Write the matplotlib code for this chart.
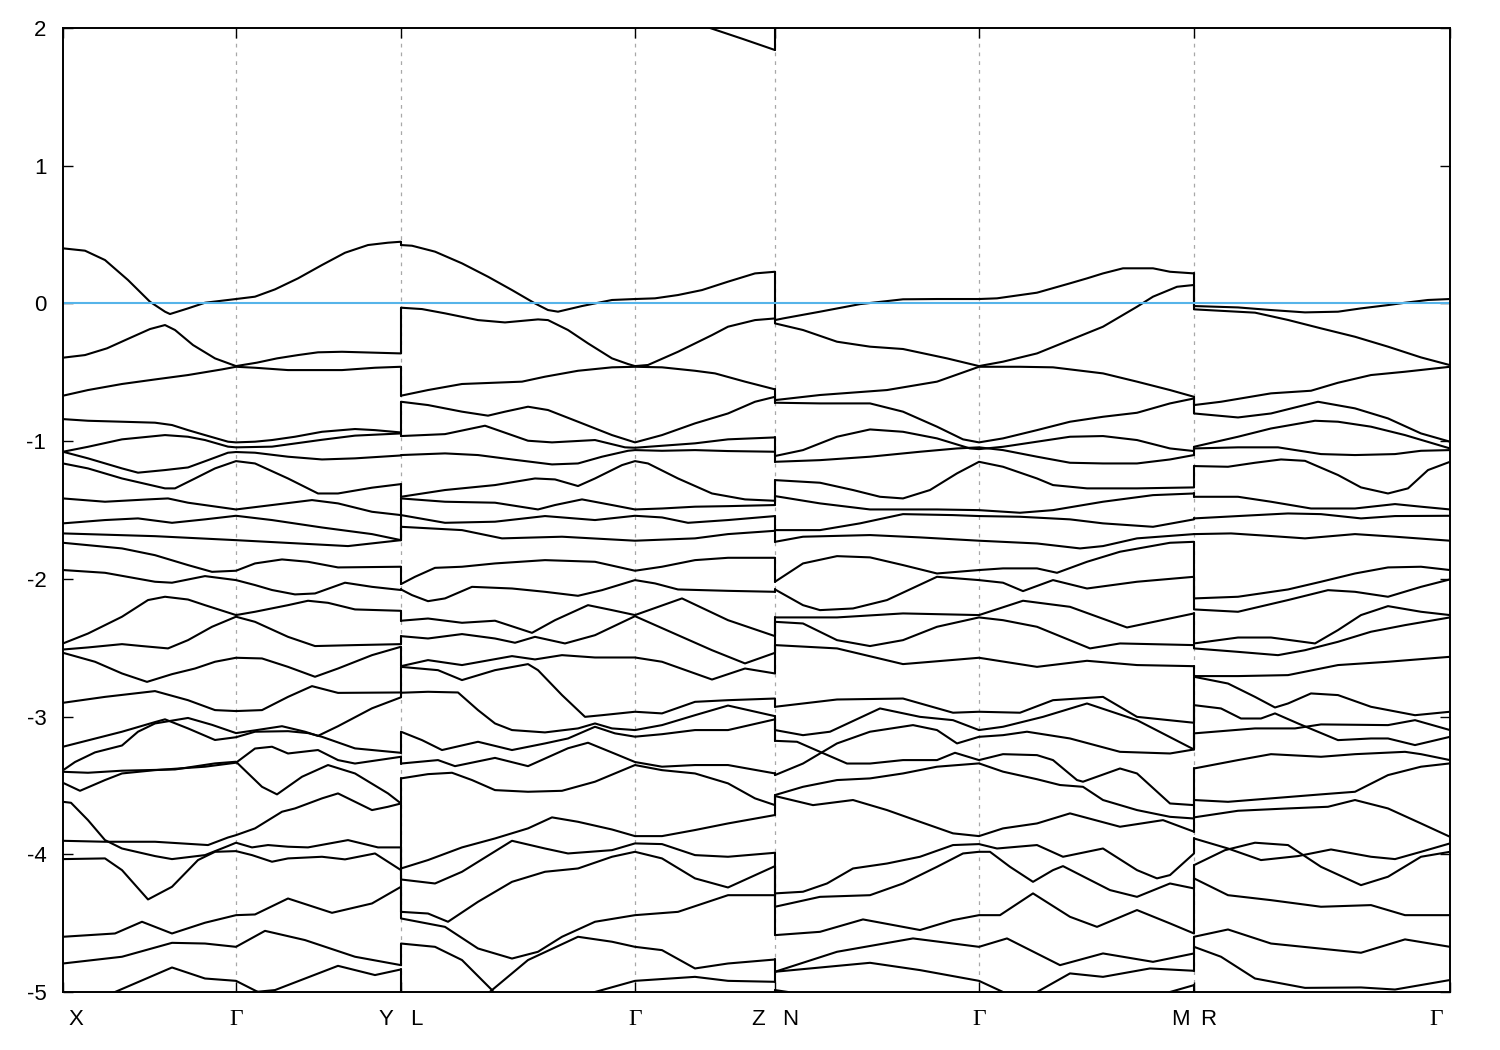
import matplotlib
matplotlib.use("Agg")
import matplotlib.pyplot as plt
import matplotlib.transforms as mtransforms

plt.rcParams['font.family'] = ['Liberation Sans', 'DejaVu Sans']
plt.rcParams['axes.unicode_minus'] = False

# ---------------- k-path (arbitrary path-length units) ----------------
tick_k = [0, 173, 338, 572, 712, 916, 1131, 1387]
label_k = [13, 173, 323, 353, 572, 695, 727, 916, 1117, 1145, 1373]
label_txt = ["X", "Γ", "Y", "L", "Γ", "Z", "N", "Γ", "M", "R", "Γ"]
yticks = [-5, -4, -3, -2, -1, 0, 1, 2]
boundaries = [338, 712, 1131]

# ---------------- bands: (k, E[eV]) ----------------
# Panel 1 : X - Gamma - Y
panel1 = [
    [(0, 2.6), (338, 2.6)],
    [(0, 0.400), (22, 0.383), (42, 0.315), (65, 0.170), (87, 0.012), (102, -0.060), (107, -0.077), (125, -0.036), (142, 0.005), (173, 0.032), (192, 0.049), (212, 0.102), (235, 0.182), (259, 0.279), (282, 0.368), (305, 0.424), (325, 0.441), (338, 0.448)],
    [(0, -0.394), (22, -0.375), (44, -0.326), (66, -0.254), (87, -0.186), (102, -0.157), (112, -0.193), (130, -0.302), (152, -0.399), (173, -0.455), (194, -0.430), (214, -0.399), (235, -0.375), (255, -0.355), (279, -0.351), (338, -0.363)],
    [(0, -0.670), (25, -0.629), (59, -0.585), (92, -0.552), (125, -0.520), (159, -0.479), (173, -0.460), (192, -0.467), (225, -0.484), (279, -0.484), (312, -0.467), (338, -0.460)],
    [(0, -0.840), (25, -0.852), (59, -0.859), (92, -0.866), (109, -0.883), (125, -0.920), (142, -0.956), (165, -1.004), (173, -1.009), (192, -1.004), (209, -0.992), (232, -0.968), (259, -0.932), (292, -0.912), (312, -0.920), (338, -0.937)],
    [(0, -1.077), (25, -1.041), (59, -0.987), (102, -0.956), (125, -0.968), (142, -0.992), (165, -1.040), (173, -1.045), (209, -1.040), (259, -0.990), (292, -0.960), (338, -0.944)],
    [(0, -1.077), (25, -1.125), (59, -1.198), (75, -1.229), (102, -1.210), (125, -1.191), (145, -1.138), (165, -1.084), (173, -1.079), (192, -1.084), (225, -1.113), (259, -1.133), (292, -1.125), (338, -1.104)],
    [(0, -1.162), (25, -1.198), (59, -1.271), (102, -1.343), (112, -1.343), (132, -1.271), (152, -1.198), (173, -1.145), (192, -1.162), (225, -1.271), (255, -1.380), (275, -1.380), (309, -1.338), (338, -1.312)],
    [(0, -1.416), (42, -1.440), (85, -1.423), (105, -1.416), (125, -1.447), (173, -1.496), (209, -1.464), (249, -1.428), (275, -1.452), (309, -1.513), (338, -1.537)],
    [(0, -1.597), (42, -1.573), (75, -1.561), (109, -1.593), (142, -1.568), (173, -1.542), (209, -1.573), (259, -1.627), (309, -1.675), (338, -1.719)],
    [(0, -1.670), (92, -1.690), (173, -1.719), (285, -1.762), (338, -1.719)],
    [(0, -1.738), (59, -1.779), (92, -1.828), (125, -1.900), (149, -1.949), (173, -1.941), (192, -1.888), (219, -1.859), (245, -1.876), (275, -1.917), (338, -1.912)],
    [(0, -1.936), (42, -1.956), (92, -2.021), (109, -2.028), (142, -1.980), (173, -2.009), (192, -2.045), (209, -2.081), (232, -2.113), (252, -2.106), (282, -2.028), (309, -2.058), (338, -2.081)],
    [(0, -2.469), (25, -2.397), (59, -2.275), (85, -2.154), (102, -2.130), (125, -2.150), (142, -2.191), (173, -2.263), (192, -2.239), (225, -2.191), (245, -2.159), (265, -2.174), (292, -2.222), (338, -2.232)],
    [(0, -2.513), (25, -2.498), (59, -2.474), (79, -2.488), (105, -2.505), (125, -2.445), (149, -2.348), (173, -2.275), (192, -2.312), (225, -2.421), (252, -2.488), (292, -2.481), (338, -2.474)],
    [(0, -2.537), (32, -2.602), (59, -2.687), (84, -2.748), (109, -2.692), (132, -2.651), (152, -2.602), (173, -2.573), (199, -2.578), (225, -2.639), (252, -2.711), (275, -2.651), (309, -2.554), (338, -2.493)],
    [(0, -2.900), (42, -2.857), (92, -2.815), (125, -2.881), (152, -2.953), (173, -2.960), (199, -2.953), (225, -2.857), (249, -2.779), (275, -2.828), (338, -2.825)],
    [(0, -3.219), (59, -3.110), (92, -3.040), (102, -3.020), (125, -3.086), (152, -3.170), (173, -3.150), (192, -3.110), (225, -3.106), (245, -3.120), (259, -3.147), (292, -3.231), (338, -3.263)],
    [(0, -3.390), (12, -3.330), (32, -3.260), (59, -3.210), (75, -3.110), (92, -3.050), (125, -3.010), (149, -3.060), (173, -3.120), (192, -3.100), (219, -3.070), (242, -3.110), (255, -3.140), (275, -3.070), (309, -2.940), (338, -2.860)],
    [(0, -3.401), (25, -3.408), (59, -3.393), (112, -3.384), (152, -3.340), (173, -3.328), (199, -3.510), (214, -3.565), (239, -3.437), (265, -3.352), (292, -3.413), (325, -3.558), (338, -3.631)],
    [(0, -3.481), (17, -3.539), (42, -3.461), (59, -3.413), (92, -3.389), (142, -3.364), (173, -3.335), (192, -3.232), (209, -3.219), (225, -3.268), (255, -3.243), (275, -3.316), (292, -3.341), (338, -3.292)],
    [(0, -3.619), (8, -3.626), (25, -3.752), (42, -3.897), (59, -3.958), (92, -4.013), (109, -4.035), (142, -4.006), (165, -3.940), (173, -3.916), (189, -3.950), (205, -3.933), (225, -3.945), (245, -3.950), (285, -3.897), (315, -3.950), (338, -3.950)],
    [(0, -3.902), (42, -3.909), (92, -3.909), (145, -3.933), (165, -3.878), (173, -3.861), (192, -3.812), (219, -3.691), (232, -3.667), (259, -3.594), (275, -3.558), (309, -3.679), (325, -3.655), (338, -3.631)],
    [(0, -4.035), (42, -4.030), (59, -4.115), (85, -4.328), (109, -4.236), (135, -4.042), (152, -3.982), (173, -3.977), (189, -4.006), (209, -4.054), (225, -4.030), (259, -4.018), (282, -4.037), (312, -3.994), (338, -4.115)],
    [(0, -4.599), (52, -4.575), (79, -4.490), (109, -4.575), (142, -4.497), (173, -4.442), (192, -4.437), (225, -4.321), (269, -4.425), (309, -4.357), (338, -4.236)],
    [(0, -4.793), (59, -4.744), (109, -4.643), (142, -4.648), (173, -4.672), (202, -4.556), (242, -4.623), (292, -4.744), (338, -4.805)],
    [(0, -5.200), (40, -5.050), (52, -5.000), (109, -4.822), (142, -4.902), (173, -4.919), (195, -5.000), (230, -5.150), (338, -5.300)],
    [(0, -5.300), (150, -5.150), (192, -5.000), (212, -4.986), (275, -4.810), (312, -4.877), (338, -4.836)],
]

# Panel 2 : L - Gamma - Z
panel2 = [
    [(338, 2.6), (572, 2.4), (600, 2.3), (647, 2.0), (680, 1.92), (712, 1.84)],
    [(338, 0.424), (349, 0.419), (372, 0.376), (399, 0.291), (425, 0.194), (449, 0.097), (472, 0.0), (485, -0.048), (495, -0.060), (519, -0.019), (549, 0.025), (572, 0.032), (592, 0.037), (615, 0.061), (639, 0.097), (665, 0.158), (692, 0.218), (712, 0.230)],
    [(338, -0.031), (359, -0.041), (382, -0.072), (415, -0.121), (442, -0.138), (475, -0.116), (485, -0.121), (505, -0.193), (525, -0.290), (549, -0.399), (565, -0.440), (572, -0.455), (585, -0.447), (615, -0.351), (649, -0.230), (665, -0.169), (692, -0.121), (712, -0.109)],
    [(338, -0.670), (365, -0.629), (399, -0.585), (459, -0.568), (482, -0.532), (515, -0.489), (549, -0.464), (572, -0.460), (599, -0.464), (632, -0.489), (652, -0.508), (682, -0.568), (712, -0.624)],
    [(338, -0.714), (365, -0.738), (399, -0.786), (425, -0.815), (442, -0.786), (465, -0.750), (485, -0.774), (515, -0.859), (549, -0.956), (572, -1.009), (599, -0.956), (632, -0.871), (665, -0.799), (692, -0.714), (712, -0.678)],
    [(338, -0.963), (382, -0.949), (422, -0.888), (465, -0.997), (489, -1.009), (532, -0.992), (562, -1.045), (572, -1.048), (632, -1.016), (665, -0.987), (712, -0.973)],
    [(338, -1.101), (382, -1.089), (415, -1.101), (449, -1.133), (489, -1.169), (515, -1.162), (539, -1.113), (565, -1.070), (572, -1.065), (599, -1.070), (632, -1.065), (665, -1.072), (712, -1.077)],
    [(338, -1.404), (382, -1.355), (432, -1.319), (472, -1.271), (492, -1.278), (515, -1.326), (532, -1.271), (559, -1.174), (572, -1.145), (585, -1.162), (615, -1.271), (649, -1.380), (682, -1.423), (712, -1.433)],
    [(338, -1.416), (382, -1.440), (432, -1.447), (475, -1.496), (492, -1.464), (519, -1.423), (549, -1.464), (572, -1.496), (599, -1.489), (632, -1.476), (665, -1.472), (712, -1.464)],
    [(338, -1.537), (382, -1.593), (432, -1.585), (482, -1.544), (532, -1.573), (572, -1.542), (599, -1.554), (625, -1.593), (665, -1.573), (712, -1.544)],
    [(338, -1.622), (399, -1.646), (439, -1.706), (499, -1.694), (572, -1.723), (632, -1.706), (665, -1.675), (712, -1.651)],
    [(338, -2.038), (352, -1.985), (372, -1.920), (399, -1.912), (432, -1.888), (482, -1.864), (532, -1.876), (572, -1.941), (599, -1.912), (632, -1.864), (665, -1.847), (712, -1.847)],
    [(338, -2.077), (349, -2.118), (365, -2.162), (382, -2.142), (409, -2.058), (449, -2.070), (482, -2.094), (515, -2.123), (539, -2.082), (572, -2.009), (592, -2.033), (615, -2.077), (665, -2.087), (712, -2.094)],
    [(338, -2.304), (365, -2.288), (399, -2.319), (432, -2.304), (469, -2.392), (492, -2.300), (525, -2.191), (549, -2.227), (572, -2.263), (619, -2.142), (665, -2.300), (712, -2.416)],
    [(338, -2.416), (365, -2.433), (399, -2.401), (432, -2.433), (452, -2.464), (472, -2.421), (502, -2.469), (532, -2.409), (572, -2.271), (615, -2.409), (649, -2.518), (682, -2.614), (712, -2.537)],
    [(338, -2.634), (365, -2.590), (399, -2.626), (449, -2.561), (472, -2.585), (499, -2.554), (532, -2.571), (572, -2.571), (599, -2.602), (649, -2.731), (682, -2.651), (712, -2.687)],
    [(338, -2.639), (375, -2.663), (399, -2.735), (432, -2.663), (465, -2.619), (475, -2.663), (499, -2.844), (522, -3.002), (539, -2.990), (572, -2.965), (599, -2.977), (632, -2.893), (665, -2.881), (712, -2.869)],
    [(338, -2.827), (365, -2.820), (395, -2.825), (415, -2.953), (432, -3.050), (449, -3.098), (482, -3.115), (515, -3.086), (532, -3.050), (549, -3.086), (572, -3.098), (599, -3.062), (632, -2.990), (665, -2.920), (712, -2.997)],
    [(338, -3.110), (359, -3.171), (379, -3.243), (415, -3.183), (449, -3.243), (482, -3.195), (505, -3.159), (532, -3.074), (552, -3.122), (572, -3.146), (599, -3.128), (632, -3.098), (665, -3.098), (712, -3.020)],
    [(338, -3.341), (375, -3.316), (392, -3.360), (432, -3.300), (465, -3.360), (505, -3.230), (525, -3.190), (552, -3.270), (572, -3.330), (599, -3.364), (632, -3.352), (665, -3.352), (712, -3.413)],
    [(338, -3.449), (365, -3.418), (389, -3.408), (409, -3.461), (432, -3.534), (465, -3.546), (499, -3.539), (532, -3.473), (572, -3.352), (599, -3.389), (632, -3.413), (665, -3.485), (692, -3.594), (712, -3.643)],
    [(338, -4.103), (365, -4.042), (399, -3.950), (432, -3.885), (465, -3.812), (489, -3.732), (515, -3.764), (549, -3.820), (572, -3.868), (599, -3.868), (632, -3.824), (665, -3.776), (712, -3.715)],
    [(338, -4.183), (372, -4.212), (399, -4.127), (449, -3.902), (482, -3.958), (505, -3.994), (549, -3.970), (572, -3.921), (599, -3.926), (632, -4.006), (665, -4.018), (712, -3.989)],
    [(338, -4.418), (365, -4.430), (385, -4.490), (415, -4.345), (449, -4.200), (482, -4.127), (515, -4.103), (549, -4.018), (572, -3.982), (599, -4.030), (632, -4.175), (665, -4.241), (712, -4.086)],
    [(338, -4.466), (382, -4.527), (415, -4.684), (449, -4.757), (475, -4.708), (499, -4.599), (532, -4.490), (572, -4.442), (615, -4.418), (665, -4.297), (712, -4.297)],
    [(338, -4.648), (372, -4.672), (399, -4.768), (429, -4.986), (445, -5.150), (712, -5.400)],
    [(338, -5.300), (410, -5.100), (429, -4.986), (465, -4.768), (515, -4.599), (549, -4.635), (572, -4.672), (599, -4.696), (632, -4.829), (665, -4.793), (712, -4.764)],
    [(338, -5.350), (520, -5.050), (532, -5.000), (572, -4.919), (632, -4.890), (665, -4.919), (712, -4.926)],
]

# Panel 3 : N - Gamma - M
panel3 = [
    [(712, 2.3), (1131, 2.5)],
    [(712, -0.121), (720, -0.109), (757, -0.060), (797, -0.005), (840, 0.030), (874, 0.032), (916, 0.032), (934, 0.037), (974, 0.078), (1007, 0.146), (1024, 0.182), (1040, 0.218), (1060, 0.255), (1090, 0.255), (1107, 0.230), (1131, 0.218)],
    [(712, -0.145), (740, -0.193), (774, -0.278), (807, -0.314), (840, -0.331), (884, -0.399), (916, -0.455), (940, -0.423), (974, -0.363), (1007, -0.266), (1040, -0.169), (1074, -0.024), (1090, 0.049), (1114, 0.121), (1131, 0.134)],
    [(712, -0.702), (757, -0.665), (824, -0.629), (874, -0.568), (916, -0.460), (957, -0.460), (990, -0.464), (1040, -0.508), (1074, -0.568), (1107, -0.629), (1131, -0.678)],
    [(712, -0.721), (757, -0.726), (807, -0.726), (840, -0.786), (874, -0.895), (900, -0.987), (916, -1.009), (940, -0.980), (974, -0.920), (1007, -0.859), (1040, -0.823), (1074, -0.794), (1107, -0.726), (1131, -0.690)],
    [(712, -1.108), (740, -1.065), (774, -0.968), (807, -0.915), (840, -0.932), (874, -0.980), (907, -1.053), (916, -1.058), (940, -1.041), (974, -1.004), (1007, -0.968), (1040, -0.963), (1074, -0.992), (1107, -1.053), (1131, -1.072)],
    [(712, -1.150), (757, -1.138), (807, -1.113), (857, -1.077), (894, -1.053), (916, -1.045), (940, -1.065), (974, -1.113), (1007, -1.157), (1040, -1.162), (1074, -1.162), (1107, -1.133), (1131, -1.101)],
    [(712, -1.283), (757, -1.302), (790, -1.355), (817, -1.404), (840, -1.416), (867, -1.355), (894, -1.234), (916, -1.150), (940, -1.186), (974, -1.271), (990, -1.319), (1024, -1.343), (1074, -1.343), (1131, -1.336)],
    [(712, -1.399), (757, -1.452), (807, -1.496), (874, -1.496), (916, -1.501), (957, -1.520), (990, -1.501), (1040, -1.440), (1090, -1.392), (1131, -1.380)],
    [(712, -1.646), (757, -1.646), (797, -1.597), (840, -1.530), (890, -1.537), (916, -1.544), (957, -1.549), (1007, -1.568), (1040, -1.597), (1090, -1.622), (1131, -1.568)],
    [(712, -1.731), (740, -1.694), (807, -1.682), (857, -1.699), (916, -1.723), (974, -1.743), (1017, -1.779), (1040, -1.762), (1074, -1.706), (1131, -1.675)],
    [(712, -2.021), (740, -1.888), (774, -1.835), (807, -1.844), (840, -1.900), (874, -1.961), (916, -1.936), (940, -1.924), (974, -1.924), (994, -1.956), (1024, -1.876), (1057, -1.803), (1107, -1.738), (1131, -1.731)],
    [(712, -2.077), (740, -2.191), (757, -2.227), (790, -2.215), (824, -2.154), (874, -1.985), (916, -2.009), (940, -2.028), (960, -2.089), (990, -2.009), (1024, -2.070), (1074, -2.021), (1131, -1.985)],
    [(712, -2.280), (774, -2.280), (840, -2.251), (916, -2.263), (960, -2.159), (1007, -2.203), (1064, -2.353), (1131, -2.251)],
    [(712, -2.312), (740, -2.324), (774, -2.445), (807, -2.488), (840, -2.445), (874, -2.348), (916, -2.280), (940, -2.300), (974, -2.348), (1027, -2.505), (1057, -2.469), (1131, -2.481)],
    [(712, -2.481), (774, -2.505), (840, -2.619), (916, -2.573), (974, -2.639), (1024, -2.595), (1074, -2.626), (1131, -2.634)],
    [(712, -2.929), (774, -2.876), (840, -2.869), (890, -2.972), (916, -2.965), (957, -2.972), (990, -2.881), (1040, -2.857), (1074, -3.002), (1131, -3.045)],
    [(712, -3.098), (740, -3.135), (767, -3.110), (817, -2.941), (857, -3.002), (890, -3.026), (916, -3.098), (940, -3.074), (980, -3.002), (1024, -2.905), (1074, -3.026), (1131, -3.239)],
    [(712, -3.176), (734, -3.183), (757, -3.256), (784, -3.341), (807, -3.341), (840, -3.316), (874, -3.316), (892, -3.263), (916, -3.316), (940, -3.273), (974, -3.280), (990, -3.316), (1014, -3.461), (1020, -3.473), (1057, -3.377), (1074, -3.413), (1107, -3.631), (1131, -3.643)],
    [(712, -3.425), (740, -3.341), (774, -3.195), (807, -3.110), (850, -3.062), (874, -3.098), (894, -3.195), (916, -3.147), (940, -3.135), (964, -3.110), (1007, -3.159), (1057, -3.256), (1107, -3.268), (1131, -3.239)],
    [(712, -3.570), (740, -3.510), (774, -3.461), (807, -3.449), (840, -3.413), (874, -3.364), (916, -3.340), (940, -3.400), (974, -3.455), (997, -3.497), (1020, -3.510), (1040, -3.606), (1074, -3.679), (1107, -3.728), (1131, -3.740)],
    [(712, -3.577), (750, -3.643), (790, -3.606), (824, -3.679), (857, -3.764), (890, -3.848), (916, -3.868), (940, -3.812), (974, -3.776), (1007, -3.703), (1057, -3.800), (1100, -3.752), (1131, -3.836)],
    [(712, -4.284), (740, -4.272), (764, -4.212), (790, -4.103), (824, -4.067), (857, -4.018), (890, -3.933), (916, -3.926), (934, -3.958), (974, -3.933), (1000, -4.018), (1040, -3.958), (1074, -4.115), (1094, -4.175), (1107, -4.151), (1131, -3.994)],
    [(712, -4.381), (757, -4.309), (807, -4.297), (840, -4.212), (874, -4.091), (900, -3.994), (916, -3.982), (927, -3.982), (947, -4.091), (970, -4.200), (990, -4.115), (1000, -4.086), (1024, -4.175), (1047, -4.260), (1074, -4.309), (1107, -4.212), (1131, -4.248)],
    [(712, -4.587), (757, -4.563), (800, -4.473), (857, -4.550), (890, -4.478), (916, -4.442), (937, -4.442), (970, -4.284), (1007, -4.454), (1034, -4.527), (1074, -4.405), (1107, -4.502), (1131, -4.575)],
    [(712, -4.853), (774, -4.708), (850, -4.611), (916, -4.672), (944, -4.611), (997, -4.805), (1040, -4.720), (1090, -4.781), (1131, -4.720)],
    [(712, -4.853), (807, -4.788), (857, -4.841), (916, -4.919), (940, -5.000), (960, -5.100), (1131, -5.400)],
    [(712, -5.300), (950, -5.100), (974, -5.000), (1007, -4.865), (1040, -4.890), (1087, -4.829), (1131, -4.846)],
    [(712, -5.500), (1090, -5.100), (1107, -5.000), (1131, -4.950)],
    [(712, -4.986), (725, -5.000), (760, -5.200), (1131, -5.450)],
]

# Panel 4 : R - Gamma
panel4 = [
    [(1131, 2.5), (1387, 2.5)],
    [(1131, -0.019), (1175, -0.029), (1208, -0.048), (1242, -0.065), (1275, -0.060), (1298, -0.036), (1325, -0.012), (1342, 0.005), (1365, 0.025), (1387, 0.032)],
    [(1131, -0.043), (1192, -0.067), (1225, -0.120), (1258, -0.181), (1292, -0.242), (1325, -0.314), (1358, -0.392), (1387, -0.448)],
    [(1131, -0.738), (1158, -0.714), (1208, -0.653), (1248, -0.634), (1275, -0.576), (1308, -0.520), (1342, -0.496), (1387, -0.460)],
    [(1131, -0.799), (1175, -0.828), (1208, -0.799), (1255, -0.714), (1292, -0.762), (1325, -0.835), (1358, -0.944), (1387, -1.004)],
    [(1131, -1.041), (1175, -0.968), (1208, -0.908), (1252, -0.852), (1275, -0.859), (1308, -0.895), (1342, -0.956), (1387, -1.053)],
    [(1131, -1.053), (1175, -1.045), (1215, -1.045), (1258, -1.094), (1292, -1.101), (1332, -1.094), (1358, -1.070), (1387, -1.065)],
    [(1131, -1.181), (1165, -1.186), (1192, -1.157), (1218, -1.133), (1242, -1.143), (1275, -1.246), (1298, -1.336), (1325, -1.380), (1345, -1.343), (1365, -1.210), (1387, -1.150)],
    [(1131, -1.404), (1175, -1.404), (1208, -1.440), (1248, -1.489), (1292, -1.489), (1332, -1.457), (1358, -1.476), (1387, -1.496)],
    [(1131, -1.561), (1175, -1.544), (1225, -1.525), (1258, -1.530), (1298, -1.561), (1332, -1.544), (1387, -1.542)],
    [(1131, -1.675), (1168, -1.670), (1208, -1.689), (1242, -1.706), (1292, -1.675), (1332, -1.694), (1387, -1.723)],
    [(1131, -2.142), (1175, -2.130), (1225, -2.077), (1258, -2.021), (1292, -1.961), (1325, -1.917), (1358, -1.912), (1387, -1.936)],
    [(1131, -2.222), (1175, -2.239), (1225, -2.154), (1265, -2.082), (1292, -2.094), (1325, -2.130), (1358, -2.058), (1387, -2.004)],
    [(1131, -2.469), (1175, -2.426), (1208, -2.426), (1252, -2.469), (1275, -2.372), (1298, -2.263), (1325, -2.198), (1358, -2.239), (1387, -2.263)],
    [(1131, -2.505), (1175, -2.530), (1215, -2.554), (1242, -2.518), (1275, -2.457), (1308, -2.384), (1342, -2.336), (1387, -2.280)],
    [(1131, -2.706), (1175, -2.706), (1225, -2.699), (1275, -2.626), (1325, -2.602), (1387, -2.566)],
    [(1131, -2.711), (1165, -2.760), (1192, -2.857), (1212, -2.934), (1225, -2.905), (1248, -2.832), (1275, -2.844), (1308, -2.929), (1352, -2.990), (1387, -2.965)],
    [(1131, -2.917), (1158, -2.941), (1178, -3.014), (1198, -3.014), (1212, -2.977), (1235, -3.050), (1275, -3.171), (1308, -3.159), (1325, -3.159), (1352, -3.207), (1387, -3.147)],
    [(1131, -3.122), (1192, -3.086), (1232, -3.086), (1258, -3.057), (1325, -3.062), (1352, -3.026), (1387, -3.098)],
    [(1131, -3.377), (1175, -3.316), (1208, -3.273), (1258, -3.292), (1292, -3.273), (1342, -3.256), (1358, -3.273), (1387, -3.316)],
    [(1131, -3.606), (1165, -3.619), (1208, -3.594), (1258, -3.565), (1292, -3.546), (1325, -3.425), (1358, -3.364), (1387, -3.340)],
    [(1131, -3.732), (1175, -3.684), (1225, -3.667), (1265, -3.655), (1292, -3.606), (1325, -3.667), (1358, -3.776), (1387, -3.873)],
    [(1131, -3.885), (1165, -3.958), (1198, -4.042), (1235, -4.013), (1268, -3.965), (1308, -4.018), (1332, -4.035), (1358, -3.982), (1387, -3.921)],
    [(1131, -4.079), (1162, -3.970), (1192, -3.916), (1225, -3.933), (1258, -4.091), (1298, -4.224), (1325, -4.163), (1358, -4.018), (1387, -3.982)],
    [(1131, -4.175), (1165, -4.297), (1208, -4.333), (1258, -4.381), (1308, -4.369), (1342, -4.442), (1387, -4.442)],
    [(1131, -4.599), (1165, -4.546), (1208, -4.648), (1298, -4.715), (1342, -4.618), (1387, -4.672)],
    [(1131, -4.672), (1158, -4.744), (1192, -4.902), (1242, -4.970), (1298, -4.967), (1332, -4.982), (1387, -4.913)],
    [(1131, -5.100), (1387, -5.200)],
]

panels = [panel1, panel2, panel3, panel4]

# ---------------- figure ----------------
W, H = 1500, 1050
fig = plt.figure(figsize=(W / 100, H / 100), dpi=100)
ax = fig.add_axes([63 / W, 1 - 992 / H, (1450 - 63) / W, (992 - 28) / H])

band_kw = dict(color='black', lw=1.5, solid_joinstyle='round', solid_capstyle='round', zorder=3)

for bands in panels:
    for band in bands:
        k = [p[0] for p in band]
        e = [p[1] for p in band]
        ax.plot(k, e, **band_kw)

# vertical jumps at the discontinuities of the path (bands are sorted)
for kb, left, right in zip(boundaries, panels[:-1], panels[1:]):
    ends = sorted((b[-1][1] for b in left), reverse=True)
    starts = sorted((b[0][1] for b in right), reverse=True)
    for a, b in zip(ends, starts):
        ax.plot([kb, kb], [a, b], **band_kw)

# Fermi level
ax.axhline(0.0, color='#56b4e9', lw=1.5, zorder=4)

# grid at high-symmetry points
for kx in tick_k[1:-1]:
    ax.axvline(kx, color='#a8a8a8', lw=0.9, ls=(0, (3, 4)), zorder=1)

ax.set_xlim(tick_k[0], tick_k[-1])
ax.set_ylim(-5, 2)

ax.set_yticks(yticks)
ax.set_yticklabels([str(v) for v in yticks])
ax.set_xticks(tick_k)
ax.set_xticklabels([])
ax.tick_params(axis='both', direction='in', length=7.5, width=1.0,
               top=True, right=True, labelsize=16, colors='black')
ax.tick_params(axis='y', pad=12)

for sp in ax.spines.values():
    sp.set_linewidth(1.4)
    sp.set_zorder(5)

trans = mtransforms.blended_transform_factory(ax.transData, ax.transAxes)
for kx, t in zip(label_k, label_txt):
    if t == "Γ":
        ax.text(kx, -0.029, t, transform=trans, ha='center', va='center',
                fontsize=17, family=['Liberation Serif', 'DejaVu Serif'])
    else:
        ax.text(kx, -0.029, t, transform=trans, ha='center', va='center',
                fontsize=16)

fig.savefig('out.png', dpi=100)
